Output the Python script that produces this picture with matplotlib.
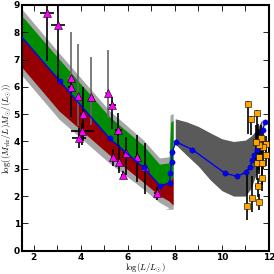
import matplotlib
matplotlib.use('Agg')
import matplotlib.pyplot as plt
import numpy as np

plt.rcParams['mathtext.fontset'] = 'cm'

# model line (blue)
mod_x = [1.5, 3.1, 5.23, 6.67, 7.37, 7.78, 7.81, 7.86, 7.9, 8.04, 8.75, 10.13, 10.64,
         11.02, 11.19, 11.3, 11.37, 11.48, 11.54, 11.63, 11.73, 11.84]
mod_y = [7.82, 6.22, 4.11, 3.05, 2.38, 2.48, 2.84, 3.26, 3.63, 3.99, 3.70, 2.84, 2.72,
         2.87, 3.06, 3.32, 3.50, 3.68, 3.93, 4.17, 4.41, 4.71]

# scatter bands, low luminosity part
band_x = [1.5, 3.1, 5.23, 6.67, 7.37, 7.78]
band_blue = [7.82, 6.22, 4.11, 3.05, 2.38, 2.48]
gray_top = [8.85, 7.22, 5.12, 4.05, 3.38, 3.42]
green_top = [8.60, 7.00, 4.90, 3.85, 3.15, 3.20]
red_bot = [6.72, 5.10, 3.50, 2.50, 2.00, 1.80]
gray_bot = [6.42, 4.80, 3.20, 2.25, 1.75, 1.55]

# dark band, high luminosity part
dark_x = [8.02, 8.5, 9.0, 9.5, 10.0, 10.5, 11.0, 11.25, 11.5, 11.7]
dark_top = [4.83, 4.72, 4.55, 4.32, 4.10, 4.00, 4.05, 4.20, 4.45, 4.80]
dark_bot = [3.90, 3.50, 3.10, 2.60, 2.20, 2.00, 2.00, 2.30, 2.90, 3.70]

# magenta triangles: x, y, xerr, yerr low, yerr high
tri_x = [2.55, 3.02, 3.60, 3.57, 3.90, 4.09, 4.45, 5.14, 5.35, 5.59, 4.07, 3.93, 5.37,
         5.63, 5.80, 5.91, 6.41, 6.72, 7.23]
tri_y = [8.71, 8.28, 6.32, 5.98, 5.68, 5.01, 5.62, 5.76, 5.34, 4.43, 4.37, 4.11, 3.42,
         3.26, 2.77, 3.57, 3.42, 3.06, 2.10]
tri_xe = [0.3, 0.3, 0.2, 0.1, 0.1, 0.1, 0.1, 0.1, 0.15, 0.15, 0.5, 0.3, 0.1, 0.1, 0.1,
          0.1, 0.1, 0.1, 0.1]
tri_lo = [1.78, 2.1, 1.4, 1.1, 1.1, 1.0, 1.0, 0.9, 0.9, 0.6, 0.5, 0.35, 0.3, 0.4, 0.15,
          0.8, 0.9, 1.0, 0.25]
tri_hi = [0.6, 1.0, 1.7, 0.4, 1.9, 1.0, 1.46, 1.6, 0.3, 0.6, 0.3, 0.4, 0.3, 0.6, 0.15,
          0.6, 0.8, 0.9, 0.25]
tri_col = ['k', 'k', '0.4', 'k', '0.4', 'k', '0.4', '0.4', 'k', 'k', 'k', 'k', 'k', 'k',
           'k', 'k', 'k', 'k', 'k']

# orange squares
sq_x = [11.12, 11.22, 11.48, 11.55, 11.66, 11.86, 11.59, 11.48, 11.69, 11.87, 11.72,
        11.52, 11.27, 11.59, 11.05, 11.76, 11.59, 11.45]
sq_y = [5.38, 4.83, 5.05, 3.93, 4.11, 3.89, 3.42, 3.20, 3.20, 3.50, 2.68, 2.36, 1.93,
        1.78, 1.62, 3.81, 3.87, 3.99]
sq_xe = [0.05, 0.05, 0.05, 0.05, 0.05, 0.08, 0.05, 0.05, 0.05, 0.05, 0.05, 0.1, 0.1,
         0.1, 0.05, 0.05, 0.05, 0.05]
sq_lo = [1.1, 0.6, 2.0, 0.8, 1.0, 0.5, 0.6, 0.6, 0.8, 0.4, 0.5, 0.4, 0.5, 0.3, 0.5,
         0.8, 0.9, 0.7]
sq_hi = [0.1, 0.1, 0.1, 0.7, 0.5, 0.3, 0.6, 0.5, 0.6, 0.3, 0.6, 0.3, 0.8, 0.3, 1.2,
         0.6, 0.6, 0.6]

fig = plt.figure(figsize=(2.74, 2.74), dpi=100)
ax = fig.add_axes([0.08, 0.085, 0.903, 0.897])

# light gray outer band
gx = band_x + [7.82, 7.95, 7.95] + [7.6] + band_x[::-1]
gy = gray_top + [4.95, 5.0, 1.5] + [1.5] + gray_bot[::-1]
ax.fill(gx, gy, color='#a6a6a6', lw=0)
# green upper band
ax.fill(band_x + [7.85, 7.95, 7.95] + band_x[::-1],
        green_top + [4.7, 4.75, 2.7] + band_blue[::-1], color='#008c00', lw=0)
# red lower band
ax.fill(band_x + [7.95, 7.95] + band_x[::-1],
        band_blue + [2.7, 1.65] + red_bot[::-1], color='#960000', lw=0)
# dark band
ax.fill_between(dark_x, dark_bot, dark_top, color='#5a5a5a', lw=0)

for i in range(len(tri_x)):
    ax.errorbar(tri_x[i], tri_y[i], xerr=tri_xe[i], yerr=[[tri_lo[i]], [tri_hi[i]]],
                fmt='none', ecolor=tri_col[i], elinewidth=1.2, capsize=0, zorder=3)
ax.plot(tri_x, tri_y, '^', color='#ff00ff', mec='k', mew=0.4, ms=5.5, zorder=4)

ax.errorbar(sq_x, sq_y, xerr=sq_xe, yerr=[sq_lo, sq_hi], fmt='none', ecolor='k',
            elinewidth=1.2, capsize=0, zorder=3)

ax.plot(mod_x, mod_y, '-', color='#0000ff', lw=1, zorder=5)
ax.plot(mod_x[1:], mod_y[1:], 'o', color='#0000ff', mec='#000080', mew=0.3, ms=3.8,
        zorder=5)

ax.plot(sq_x, sq_y, 's', color='#ffa500', mec='k', mew=0.4, ms=4.5, zorder=6)

ax.set_xlim(1.5, 12.02)
ax.set_ylim(0, 9)
ax.set_xticks([2, 4, 6, 8, 10, 12])
ax.set_xticks(np.arange(2, 13, 1), minor=True)
ax.set_yticks(np.arange(0, 10, 1))
ax.tick_params(which='both', direction='in', top=True, right=True, length=4,
               width=0.6, labelsize=6.5, pad=1.5)
for lab in ax.get_xticklabels() + ax.get_yticklabels():
    lab.set_fontweight('bold')
for s in ax.spines.values():
    s.set_linewidth(1.5)

ax.set_xlabel(r'$\log(L/L_{\odot})$', fontsize=6.3)
ax.set_ylabel(r'$\log((M_{\rm vir}/L)M_{\odot}/(L_{\odot}))$', fontsize=6.5)
ax.xaxis.set_label_coords(0.5, -0.043)
ax.yaxis.set_label_coords(-0.03, 0.5)

fig.savefig('out.png', dpi=100)
